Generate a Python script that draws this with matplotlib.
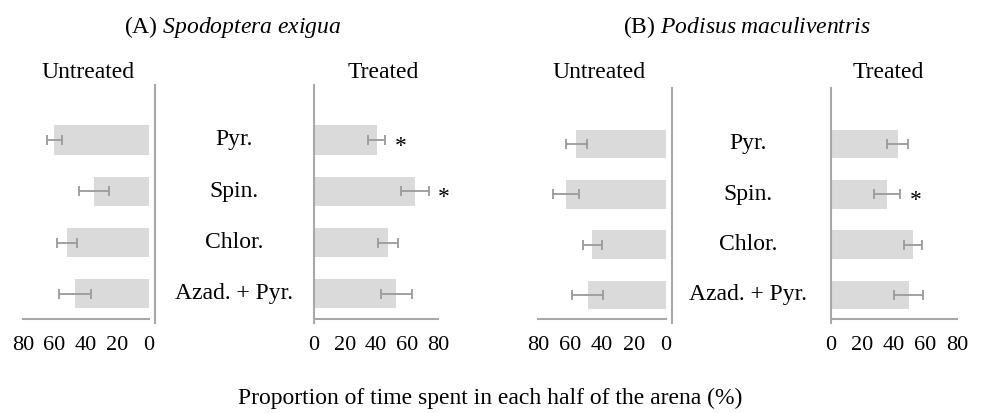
import matplotlib
matplotlib.use("Agg")
from matplotlib import pyplot as plt

plt.rcParams['font.family'] = ['Liberation Serif', 'DejaVu Serif']
plt.rcParams['mathtext.fontset'] = 'custom'
plt.rcParams['mathtext.rm'] = 'Liberation Serif'
plt.rcParams['mathtext.it'] = 'Liberation Serif:italic'

categories = ["Pyr.", "Spin.", "Chlor.", "Azad. + Pyr."]
ticks = [0, 20, 40, 60, 80]

# (A) Spodoptera exigua
a_untreated = [60, 35, 52, 47]
a_untreated_err = [5, 9.5, 6.5, 10]
a_treated = [40.5, 65, 48, 53]
a_treated_err = [5.5, 9, 6.5, 10]
a_signif = [True, True, False, False]

# (B) Podisus maculiventris
b_untreated = [56, 62.5, 46, 49]
b_untreated_err = [6.5, 8, 6, 9.5]
b_treated = [42.5, 35.5, 52, 49.5]
b_treated_err = [6.7, 8.3, 5.7, 9.2]
b_signif = [False, True, False, False]

W, H = 981, 413
BAR = "#dadada"
ERR = "#9a9a9a"
SPINE = "#a8a8a8"
FS = 17

fig = plt.figure(figsize=(W / 100, H / 100), dpi=100)


def px_axes(x0, x1, ytop, ybot):
    return fig.add_axes([x0 / W, 1 - ybot / H, (x1 - x0) / W, (ybot - ytop) / H])


def half(ax, vals, errs, side, ylim, signif=None):
    pos = list(range(len(vals) - 1, -1, -1))
    ax.barh(pos, vals, height=0.57, color=BAR, zorder=1)
    ax.errorbar(vals, pos, xerr=errs, fmt="none", ecolor=ERR, elinewidth=1.3,
                capsize=3.5, capthick=1.3, zorder=2)
    if signif:
        for v, e, p, s in zip(vals, errs, pos, signif):
            if s:
                ax.text(v + e + 10, p - 0.12, "*", fontsize=FS, ha="center", va="center")
    ax.set_ylim(*ylim)
    ax.set_yticks([])
    ax.set_xticks(ticks)
    ax.tick_params(axis="x", length=0, pad=12, labelsize=16)
    for s in ["top", "left", "right", "bottom"]:
        ax.spines[s].set_visible(False)
    ax.spines["bottom"].set_visible(True)
    ax.spines["bottom"].set_color(SPINE)
    ax.spines["bottom"].set_linewidth(1.5)
    v = "right" if side == "left" else "left"
    ax.spines[v].set_visible(True)
    ax.spines[v].set_color(SPINE)
    ax.spines[v].set_linewidth(1.5)
    ax.spines[v].set_bounds(ylim[0] - 0.08, ylim[1])
    if side == "left":
        ax.set_xlim(80, 0)
        ax.spines[v].set_position(("outward", 4))
    else:
        ax.set_xlim(0, 80)
    ax.patch.set_visible(False)
    return pos


ylim_a = (-0.49, 4.07)
ylim_b = (-0.48, 4.11)

ax1 = px_axes(23, 149, 85, 319)
pos = half(ax1, a_untreated, a_untreated_err, "left", ylim_a)
ax2 = px_axes(314, 438, 85, 319)
half(ax2, a_treated, a_treated_err, "right", ylim_a, a_signif)
ax3 = px_axes(538, 666, 88, 319)
half(ax3, b_untreated, b_untreated_err, "left", ylim_b)
ax4 = px_axes(831, 957, 88, 319)
half(ax4, b_treated, b_treated_err, "right", ylim_b, b_signif)

# category labels between halves
for ax, xc in [(ax1, 234), (ax3, 748)]:
    for c, p in zip(categories, pos):
        y = ax.transData.transform((0, p))[1]
        fig.text(xc / W, y / H, c, fontsize=FS, ha="center", va="center")

fig.text(233 / W, 1 - 27 / H, r"(A) $\mathit{Spodoptera\ exigua}$", fontsize=FS,
         ha="center", va="center")
fig.text(747 / W, 1 - 27 / H, r"(B) $\mathit{Podisus\ maculiventris}$", fontsize=FS,
         ha="center", va="center")
for x, t in [(88, "Untreated"), (383, "Treated"), (599, "Untreated"), (888, "Treated")]:
    fig.text(x / W, 1 - 72 / H, t, fontsize=FS, ha="center", va="center")

fig.text(490 / W, 1 - 398 / H, "Proportion of time spent in each half of the arena (%)",
         fontsize=FS, ha="center", va="center")

fig.savefig("out.png", dpi=100)
